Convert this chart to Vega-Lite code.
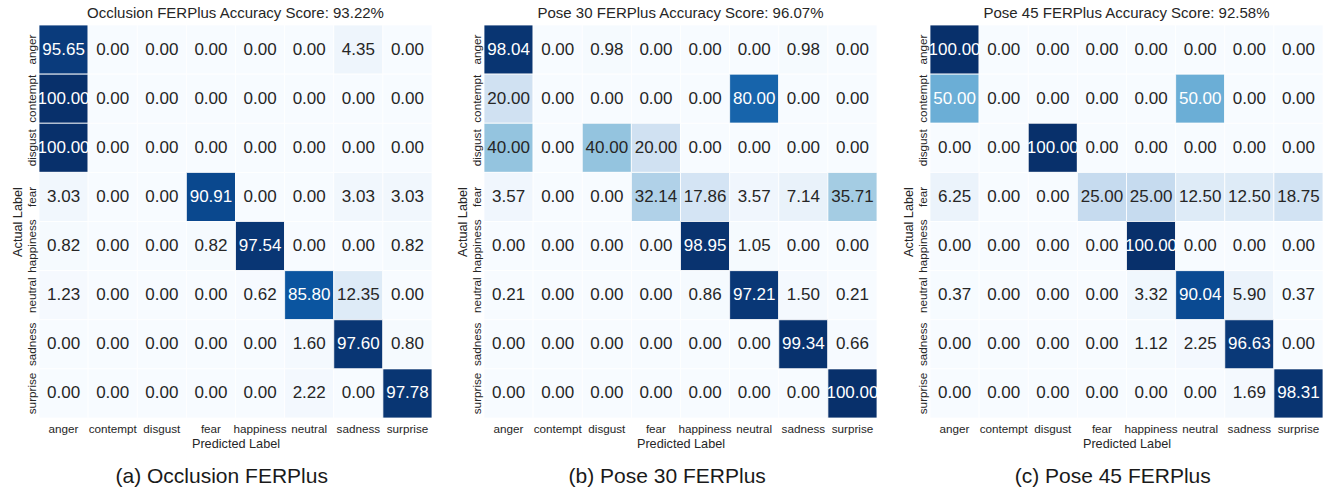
{
  "$schema": "https://vega.github.io/schema/vega-lite/v6.json",
  "autosize": {"type": "pad"},
  "padding": {"left": 10, "top": 5, "right": 5, "bottom": 3},
  "background": "white",
  "datasets": {
    "cm": [
      {"p": "a", "actual": "anger", "anger": 95.65, "contempt": 0, "disgust": 0, "fear": 0, "happiness": 0, "neutral": 0, "sadness": 4.35, "surprise": 0},
      {"p": "a", "actual": "contempt", "anger": 100, "contempt": 0, "disgust": 0, "fear": 0, "happiness": 0, "neutral": 0, "sadness": 0, "surprise": 0},
      {"p": "a", "actual": "disgust", "anger": 100, "contempt": 0, "disgust": 0, "fear": 0, "happiness": 0, "neutral": 0, "sadness": 0, "surprise": 0},
      {"p": "a", "actual": "fear", "anger": 3.03, "contempt": 0, "disgust": 0, "fear": 90.91, "happiness": 0, "neutral": 0, "sadness": 3.03, "surprise": 3.03},
      {"p": "a", "actual": "happiness", "anger": 0.82, "contempt": 0, "disgust": 0, "fear": 0.82, "happiness": 97.54, "neutral": 0, "sadness": 0, "surprise": 0.82},
      {"p": "a", "actual": "neutral", "anger": 1.23, "contempt": 0, "disgust": 0, "fear": 0, "happiness": 0.62, "neutral": 85.80, "sadness": 12.35, "surprise": 0},
      {"p": "a", "actual": "sadness", "anger": 0, "contempt": 0, "disgust": 0, "fear": 0, "happiness": 0, "neutral": 1.60, "sadness": 97.60, "surprise": 0.80},
      {"p": "a", "actual": "surprise", "anger": 0, "contempt": 0, "disgust": 0, "fear": 0, "happiness": 0, "neutral": 2.22, "sadness": 0, "surprise": 97.78},
      {"p": "b", "actual": "anger", "anger": 98.04, "contempt": 0, "disgust": 0.98, "fear": 0, "happiness": 0, "neutral": 0, "sadness": 0.98, "surprise": 0},
      {"p": "b", "actual": "contempt", "anger": 20, "contempt": 0, "disgust": 0, "fear": 0, "happiness": 0, "neutral": 80, "sadness": 0, "surprise": 0},
      {"p": "b", "actual": "disgust", "anger": 40, "contempt": 0, "disgust": 40, "fear": 20, "happiness": 0, "neutral": 0, "sadness": 0, "surprise": 0},
      {"p": "b", "actual": "fear", "anger": 3.57, "contempt": 0, "disgust": 0, "fear": 32.14, "happiness": 17.86, "neutral": 3.57, "sadness": 7.14, "surprise": 35.71},
      {"p": "b", "actual": "happiness", "anger": 0, "contempt": 0, "disgust": 0, "fear": 0, "happiness": 98.95, "neutral": 1.05, "sadness": 0, "surprise": 0},
      {"p": "b", "actual": "neutral", "anger": 0.21, "contempt": 0, "disgust": 0, "fear": 0, "happiness": 0.86, "neutral": 97.21, "sadness": 1.50, "surprise": 0.21},
      {"p": "b", "actual": "sadness", "anger": 0, "contempt": 0, "disgust": 0, "fear": 0, "happiness": 0, "neutral": 0, "sadness": 99.34, "surprise": 0.66},
      {"p": "b", "actual": "surprise", "anger": 0, "contempt": 0, "disgust": 0, "fear": 0, "happiness": 0, "neutral": 0, "sadness": 0, "surprise": 100},
      {"p": "c", "actual": "anger", "anger": 100, "contempt": 0, "disgust": 0, "fear": 0, "happiness": 0, "neutral": 0, "sadness": 0, "surprise": 0},
      {"p": "c", "actual": "contempt", "anger": 50, "contempt": 0, "disgust": 0, "fear": 0, "happiness": 0, "neutral": 50, "sadness": 0, "surprise": 0},
      {"p": "c", "actual": "disgust", "anger": 0, "contempt": 0, "disgust": 100, "fear": 0, "happiness": 0, "neutral": 0, "sadness": 0, "surprise": 0},
      {"p": "c", "actual": "fear", "anger": 6.25, "contempt": 0, "disgust": 0, "fear": 25, "happiness": 25, "neutral": 12.5, "sadness": 12.5, "surprise": 18.75},
      {"p": "c", "actual": "happiness", "anger": 0, "contempt": 0, "disgust": 0, "fear": 0, "happiness": 100, "neutral": 0, "sadness": 0, "surprise": 0},
      {"p": "c", "actual": "neutral", "anger": 0.37, "contempt": 0, "disgust": 0, "fear": 0, "happiness": 3.32, "neutral": 90.04, "sadness": 5.90, "surprise": 0.37},
      {"p": "c", "actual": "sadness", "anger": 0, "contempt": 0, "disgust": 0, "fear": 0, "happiness": 1.12, "neutral": 2.25, "sadness": 96.63, "surprise": 0},
      {"p": "c", "actual": "surprise", "anger": 0, "contempt": 0, "disgust": 0, "fear": 0, "happiness": 0, "neutral": 0, "sadness": 1.69, "surprise": 98.31}
    ]
  },
  "spacing": 22,
  "hconcat": [
    {
      "title": {"text": "(a) Occlusion FERPlus", "orient": "bottom", "baseline": "alphabetic", "offset": 33, "fontSize": 21, "color": "#1a1a1a", "anchor": "middle"},
      "vconcat": [
        {
          "data": {"name": "cm"},
          "transform": [
            {"filter": "datum.p === 'a'"},
            {"fold": ["anger", "contempt", "disgust", "fear", "happiness", "neutral", "sadness", "surprise"], "as": ["pred", "v"]}
          ],
          "title": {"text": "Occlusion FERPlus Accuracy Score: 93.22%"},
          "width": 393,
          "height": 393,
          "encoding": {
            "x": {"field": "pred", "type": "nominal", "sort": ["anger", "contempt", "disgust", "fear", "happiness", "neutral", "sadness", "surprise"], "title": "Predicted Label", "scale": {"paddingInner": 0, "paddingOuter": 0}, "axis": {"orient": "bottom", "labelAngle": 0, "labelPadding": 5, "titlePadding": 2.5}},
            "y": {"field": "actual", "type": "nominal", "sort": ["anger", "contempt", "disgust", "fear", "happiness", "neutral", "sadness", "surprise"], "title": "Actual Label", "scale": {"paddingInner": 0, "paddingOuter": 0}, "axis": {"labelAngle": -90, "labelAlign": "center", "labelBaseline": "bottom", "labelPadding": 2, "titlePadding": 2}}
          },
          "layer": [
            {"mark": {"type": "rect", "stroke": "white", "strokeWidth": 0.8}, "encoding": {"color": {"field": "v", "type": "quantitative", "legend": null, "scale": {"domain": [0, 12.5, 25, 37.5, 50, 62.5, 75, 87.5, 100], "range": ["#f7fbff", "#deebf7", "#c6dbef", "#9ecae1", "#6baed6", "#4292c6", "#2171b5", "#08519c", "#08306b"]}}}},
            {"mark": {"type": "text", "fontSize": 17, "align": "center", "baseline": "middle"}, "encoding": {"text": {"field": "v", "type": "quantitative", "format": ".2f"}, "color": {"condition": {"test": "datum.v > 45", "value": "white"}, "value": "#262626"}}}
          ]
        }
      ]
    },
    {
      "title": {"text": "(b) Pose 30 FERPlus", "orient": "bottom", "baseline": "alphabetic", "offset": 33, "fontSize": 21, "color": "#1a1a1a", "anchor": "middle"},
      "vconcat": [
        {
          "data": {"name": "cm"},
          "transform": [
            {"filter": "datum.p === 'b'"},
            {"fold": ["anger", "contempt", "disgust", "fear", "happiness", "neutral", "sadness", "surprise"], "as": ["pred", "v"]}
          ],
          "title": {"text": "Pose 30 FERPlus Accuracy Score: 96.07%"},
          "width": 393,
          "height": 393,
          "encoding": {
            "x": {"field": "pred", "type": "nominal", "sort": ["anger", "contempt", "disgust", "fear", "happiness", "neutral", "sadness", "surprise"], "title": "Predicted Label", "scale": {"paddingInner": 0, "paddingOuter": 0}, "axis": {"orient": "bottom", "labelAngle": 0, "labelPadding": 5, "titlePadding": 2.5}},
            "y": {"field": "actual", "type": "nominal", "sort": ["anger", "contempt", "disgust", "fear", "happiness", "neutral", "sadness", "surprise"], "title": "Actual Label", "scale": {"paddingInner": 0, "paddingOuter": 0}, "axis": {"labelAngle": -90, "labelAlign": "center", "labelBaseline": "bottom", "labelPadding": 2, "titlePadding": 2}}
          },
          "layer": [
            {"mark": {"type": "rect", "stroke": "white", "strokeWidth": 0.8}, "encoding": {"color": {"field": "v", "type": "quantitative", "legend": null, "scale": {"domain": [0, 12.5, 25, 37.5, 50, 62.5, 75, 87.5, 100], "range": ["#f7fbff", "#deebf7", "#c6dbef", "#9ecae1", "#6baed6", "#4292c6", "#2171b5", "#08519c", "#08306b"]}}}},
            {"mark": {"type": "text", "fontSize": 17, "align": "center", "baseline": "middle"}, "encoding": {"text": {"field": "v", "type": "quantitative", "format": ".2f"}, "color": {"condition": {"test": "datum.v > 45", "value": "white"}, "value": "#262626"}}}
          ]
        }
      ]
    },
    {
      "title": {"text": "(c) Pose 45 FERPlus", "orient": "bottom", "baseline": "alphabetic", "offset": 33, "fontSize": 21, "color": "#1a1a1a", "anchor": "middle"},
      "vconcat": [
        {
          "data": {"name": "cm"},
          "transform": [
            {"filter": "datum.p === 'c'"},
            {"fold": ["anger", "contempt", "disgust", "fear", "happiness", "neutral", "sadness", "surprise"], "as": ["pred", "v"]}
          ],
          "title": {"text": "Pose 45 FERPlus Accuracy Score: 92.58%"},
          "width": 393,
          "height": 393,
          "encoding": {
            "x": {"field": "pred", "type": "nominal", "sort": ["anger", "contempt", "disgust", "fear", "happiness", "neutral", "sadness", "surprise"], "title": "Predicted Label", "scale": {"paddingInner": 0, "paddingOuter": 0}, "axis": {"orient": "bottom", "labelAngle": 0, "labelPadding": 5, "titlePadding": 2.5}},
            "y": {"field": "actual", "type": "nominal", "sort": ["anger", "contempt", "disgust", "fear", "happiness", "neutral", "sadness", "surprise"], "title": "Actual Label", "scale": {"paddingInner": 0, "paddingOuter": 0}, "axis": {"labelAngle": -90, "labelAlign": "center", "labelBaseline": "bottom", "labelPadding": 2, "titlePadding": 2}}
          },
          "layer": [
            {"mark": {"type": "rect", "stroke": "white", "strokeWidth": 0.8}, "encoding": {"color": {"field": "v", "type": "quantitative", "legend": null, "scale": {"domain": [0, 12.5, 25, 37.5, 50, 62.5, 75, 87.5, 100], "range": ["#f7fbff", "#deebf7", "#c6dbef", "#9ecae1", "#6baed6", "#4292c6", "#2171b5", "#08519c", "#08306b"]}}}},
            {"mark": {"type": "text", "fontSize": 17, "align": "center", "baseline": "middle"}, "encoding": {"text": {"field": "v", "type": "quantitative", "format": ".2f"}, "color": {"condition": {"test": "datum.v > 45", "value": "white"}, "value": "#262626"}}}
          ]
        }
      ]
    }
  ],
  "config": {
    "font": "Liberation Sans",
    "view": {"stroke": null},
    "axis": {"ticks": false, "domain": false, "grid": false, "labelFontSize": 11.7, "titleFontSize": 12.7, "labelColor": "#262626", "titleColor": "#262626", "titleFontWeight": "normal", "labelFont": "Liberation Sans", "titleFont": "Liberation Sans"},
    "title": {"fontSize": 15, "fontWeight": "normal", "color": "#262626", "baseline": "alphabetic", "offset": 4, "font": "Liberation Sans"}
  }
}
